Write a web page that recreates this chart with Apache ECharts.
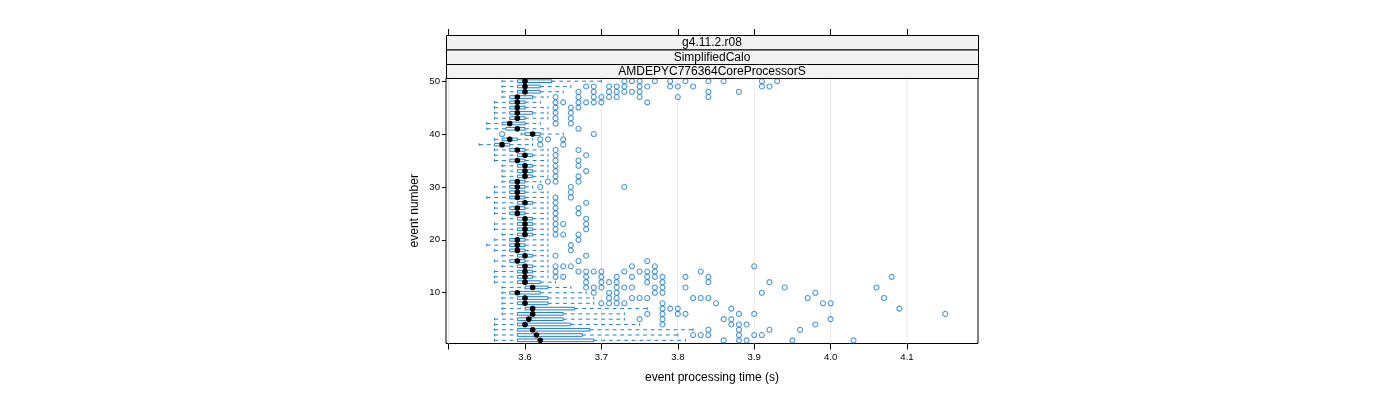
<!DOCTYPE html>
<html><head><meta charset="utf-8">
<script src="https://cdn.jsdelivr.net/npm/echarts@6/dist/echarts.min.js"></script>
<style>html,body{margin:0;padding:0;background:#fff}#c{width:1400px;height:400px}</style>
</head><body><div id="c"></div>
<script>
// ---- data ----
const events = [1,2,3,4,5,6,7,8,9,10,11,12,13,14,15,16,17,18,19,20,21,22,23,24,25,26,27,28,29,30,31,32,33,34,35,36,37,38,39,40,41,42,43,44,45,46,47,48,49,50];
const whiskerLow = [3.56,3.56,3.56,3.56,3.56,3.57,3.57,3.57,3.57,3.57, 3.57,3.56,3.56,3.56,3.57,3.56,3.57,3.56,3.55,3.56, 3.57,3.56,3.56,3.57,3.56,3.56,3.56,3.55,3.56,3.56, 3.57,3.57,3.57,3.57,3.56,3.56,3.56,3.54,3.56,3.595, 3.55,3.55,3.56,3.56,3.56,3.56,3.57,3.57,3.57,3.57];
const q1 = [3.59,3.59,3.59,3.59,3.59,3.59,3.60,3.59,3.59,3.58, 3.60,3.59,3.59,3.59,3.59,3.58,3.59,3.58,3.58,3.58, 3.59,3.59,3.59,3.59,3.58,3.58,3.59,3.58,3.58,3.58, 3.58,3.59,3.59,3.59,3.58,3.59,3.58,3.56,3.57,3.60, 3.575,3.57,3.58,3.58,3.58,3.58,3.58,3.59,3.59,3.59];
const median = [3.62,3.615,3.61,3.60,3.605,3.61,3.61,3.60,3.60,3.59, 3.61,3.60,3.60,3.60,3.60,3.59,3.60,3.59,3.59,3.59, 3.60,3.60,3.60,3.60,3.59,3.59,3.60,3.59,3.59,3.59, 3.59,3.60,3.60,3.60,3.59,3.60,3.59,3.57,3.58,3.61, 3.59,3.58,3.59,3.59,3.59,3.59,3.59,3.60,3.60,3.60];
const q3 = [3.69,3.675,3.685,3.66,3.65,3.65,3.665,3.63,3.63,3.62, 3.63,3.62,3.61,3.61,3.61,3.60,3.61,3.60,3.60,3.60, 3.61,3.61,3.61,3.61,3.60,3.60,3.61,3.60,3.60,3.60, 3.60,3.61,3.61,3.61,3.60,3.61,3.60,3.58,3.59,3.62, 3.60,3.60,3.60,3.61,3.60,3.60,3.61,3.62,3.62,3.635];
const whiskerHigh = [3.81,3.80,3.82,3.75,3.73,3.73,3.76,3.69,3.69,3.68, 3.66,3.64,3.63,3.63,3.63,3.63,3.63,3.63,3.63,3.63, 3.63,3.63,3.63,3.63,3.63,3.63,3.63,3.63,3.63,3.61, 3.62,3.63,3.63,3.63,3.63,3.63,3.63,3.61,3.61,3.65, 3.63,3.62,3.63,3.63,3.63,3.62,3.63,3.65,3.66,3.70];
const outliers = [
  [3.86,3.88,3.89,3.95,4.03],
  [3.82,3.83,3.84,3.88,3.90,3.91],
  [3.84,3.88,3.92,3.96],
  [3.78,3.87,3.88,3.89,3.98],
  [3.75,3.78,3.86,3.87,4.00],
  [3.76,3.78,3.80,3.81,3.88,3.90,4.15],
  [3.78,3.79,3.80,3.87,4.09],
  [3.70,3.71,3.72,3.73,3.78,3.85,3.99,4.00],
  [3.71,3.72,3.74,3.75,3.76,3.82,3.83,3.84,3.97,4.07],
  [3.69,3.71,3.72,3.77,3.78,3.91,3.98],
  [3.68,3.69,3.70,3.72,3.73,3.74,3.77,3.78,3.81,3.94,4.06],
  [3.68,3.70,3.71,3.72,3.76,3.78,3.84,3.92],
  [3.64,3.65,3.68,3.70,3.72,3.74,3.76,3.77,3.78,3.81,3.84,4.08],
  [3.64,3.67,3.68,3.69,3.70,3.73,3.75,3.76,3.77,3.83],
  [3.64,3.65,3.66,3.74,3.77,3.90],
  [3.67,3.76],
  [3.64,3.68],
  [3.66],
  [3.66],
  [3.67],
  [3.64,3.65,3.67],
  [3.64,3.68],
  [3.64,3.65,3.68],
  [3.64,3.68],
  [3.64,3.67],
  [3.64,3.67],
  [3.64,3.68],
  [3.64,3.66],
  [3.66],
  [3.62,3.66,3.73],
  [3.63,3.64,3.67],
  [3.64,3.67],
  [3.64,3.68],
  [3.64,3.67],
  [3.64,3.67],
  [3.64,3.68],
  [3.64,3.67],
  [3.62,3.65],
  [3.62,3.63,3.65],
  [3.57,3.69],
  [3.67],
  [3.64,3.66],
  [3.64,3.66],
  [3.64,3.66],
  [3.64,3.66,3.67],
  [3.64,3.65,3.67,3.68,3.69,3.70,3.76],
  [3.64,3.67,3.69,3.70,3.71,3.72,3.75,3.80,3.84],
  [3.67,3.69,3.71,3.72,3.73,3.74,3.75,3.84,3.88],
  [3.68,3.69,3.71,3.72,3.73,3.75,3.76,3.79,3.80,3.82,3.91,3.92],
  [3.73,3.74,3.75,3.77,3.79,3.81,3.84,3.86,3.91,3.93]
];
const xTicks = [3.5,3.6,3.7,3.8,3.9,4.0,4.1];
const xLabels = [3.6,3.7,3.8,3.9,4.0,4.1];
const yTicks = [10,20,30,40,50];
const stripLabels = ['g4.11.2.r08','SimplifiedCalo','AMDEPYC776364CoreProcessorS'];
const xTitle = 'event processing time (s)';
const yTitle = 'event number';

// ---- styling / layout ----
const FONT = '"Liberation Sans", Arial, Helvetica, sans-serif';
const BLUE = '#1f7fd0';
const BOX_H = 0.5; // box height in y units
const PANEL = {left:446, top:78, width:532, height:265.5};
const STRIP_TOP = 35, STRIP_H = [14.5,14.5,14];

const boxData = events.map((e,i)=>[e, whiskerLow[i], q1[i], median[i], q3[i], whiskerHigh[i]]);
const outData = [];
outliers.forEach((arr,i)=>arr.forEach(v=>outData.push([v, events[i]])));

function renderBox(params, api){
  const ev = api.value(0);
  const pLo = api.coord([api.value(1), ev]);
  const pA = api.coord([api.value(2), ev]);
  const pM = api.coord([api.value(3), ev]);
  const pB = api.coord([api.value(4), ev]);
  const pHi = api.coord([api.value(5), ev]);
  const h = api.size([0, BOX_H])[1];
  const y = pM[1];
  const dashed = {stroke: BLUE, lineWidth: 1, lineDash: [3.8, 3.8], fill: null};
  const solid = {stroke: BLUE, lineWidth: 1, fill: null};
  return {type:'group', children:[
    {type:'line', shape:{x1:pLo[0], y1:y, x2:pA[0], y2:y}, style:dashed},
    {type:'line', shape:{x1:pB[0], y1:y, x2:pHi[0], y2:y}, style:dashed},
    {type:'line', shape:{x1:pLo[0], y1:y-h/2, x2:pLo[0], y2:y+h/2}, style:solid},
    {type:'line', shape:{x1:pHi[0], y1:y-h/2, x2:pHi[0], y2:y+h/2}, style:solid},
    {type:'rect', shape:{x:pA[0], y:y-h/2, width:pB[0]-pA[0], height:h}, style:{fill:'none', stroke:BLUE, lineWidth:1}},
    {type:'circle', shape:{cx:pM[0], cy:y, r:2.8}, style:{fill:'#000'}}
  ]};
}
function renderGrid(params, api){
  const p = api.coord([api.value(0), 1]);
  const cs = params.coordSys;
  return {type:'line', shape:{x1:p[0], y1:cs.y, x2:p[0], y2:cs.y+cs.height}, style:{stroke:'#e6e6e6', lineWidth:1}};
}

const graphics = [];
let yy = STRIP_TOP;
stripLabels.forEach((t,i)=>{
  graphics.push({type:'rect', left:PANEL.left, top:yy, shape:{width:PANEL.width, height:STRIP_H[i]}, style:{fill:'#f2f2f2', stroke:'#000', lineWidth:1}, z:10});
  graphics.push({type:'text', x:PANEL.left+PANEL.width/2, y:yy+STRIP_H[i]/2+0.5, style:{text:t, fill:'#000', font:'12px '+FONT, textAlign:'center', textVerticalAlign:'middle'}, z:11});
  yy += STRIP_H[i];
});

const chart = echarts.init(document.getElementById('c'), null, {renderer:'canvas'});
chart.setOption({
  animation: false,
  backgroundColor: '#fff',
  textStyle: {fontFamily: FONT},
  grid: {left:PANEL.left, top:PANEL.top, width:PANEL.width, height:PANEL.height, show:true, borderColor:'#000', borderWidth:1, backgroundColor:'transparent', containLabel:false},
  xAxis: [{
    type:'value', min:3.4966, max:4.1929, position:'bottom',
    axisLine:{show:false},
    axisTick:{show:true, inside:false, length:6, customValues:xTicks, lineStyle:{color:'#000'}},
    axisLabel:{show:true, customValues:xLabels, margin:9, fontSize:9.6, color:'#000', fontFamily:FONT, formatter:v=>Number(v).toFixed(1)},
    splitLine:{show:false},
    name:xTitle, nameLocation:'middle', nameGap:28, nameTextStyle:{fontSize:12, color:'#000', fontFamily:FONT}
  },{
    type:'value', min:3.4966, max:4.1929, position:'top', offset:43,
    axisLine:{show:false},
    axisTick:{show:true, inside:false, length:6, customValues:xTicks, lineStyle:{color:'#000'}},
    axisLabel:{show:false},
    splitLine:{show:false}
  }],
  yAxis: {
    type:'value', min:0.4, max:50.6,
    axisLine:{show:false},
    axisTick:{show:true, inside:false, length:4, customValues:yTicks, lineStyle:{color:'#000'}},
    axisLabel:{show:true, customValues:yTicks, margin:6, fontSize:9.6, color:'#000', fontFamily:FONT},
    splitLine:{show:false},
    name:yTitle, nameLocation:'middle', nameGap:25, nameRotate:90, nameTextStyle:{fontSize:12, color:'#000', fontFamily:FONT}
  },
  graphic: graphics,
  series: [
    {type:'custom', name:'grid', xAxisIndex:0, data:xTicks.map(v=>[v]), encode:{x:0}, renderItem:renderGrid, z:1, silent:true},
    {type:'custom', name:'box', xAxisIndex:0, data:boxData, encode:{x:[1,2,3,4,5], y:0}, renderItem:renderBox, z:2, silent:true},
    {type:'scatter', name:'outliers', xAxisIndex:0, data:outData, symbol:'circle', symbolSize:5,
     itemStyle:{color:'rgba(0,0,0,0)', borderColor:BLUE, borderWidth:1.1}, z:3, silent:true}
  ]
});
</script></body></html>
